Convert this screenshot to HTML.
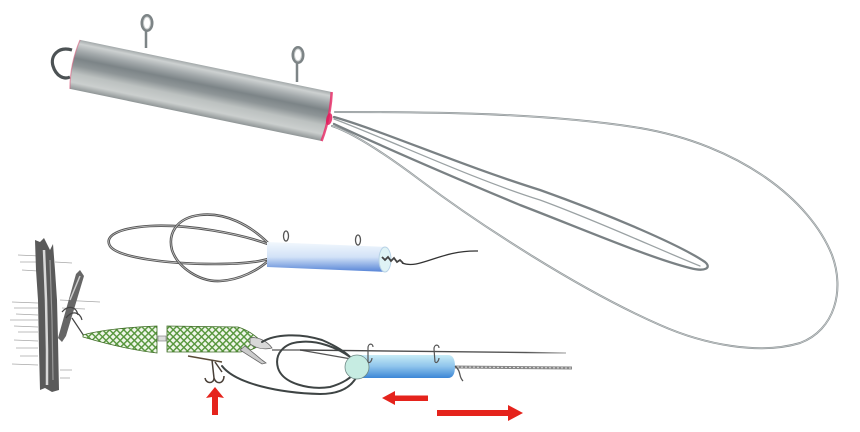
<!DOCTYPE html>
<html><head><meta charset="utf-8"><style>
html,body{margin:0;padding:0;background:#fff;}
svg{display:block;}
</style></head><body>
<svg width="860" height="432" viewBox="0 0 860 432" xmlns="http://www.w3.org/2000/svg">
<defs>
<linearGradient id="metal" x1="0" y1="-25" x2="0" y2="25" gradientUnits="userSpaceOnUse">
<stop offset="0" stop-color="#a3a9aa"/>
<stop offset="0.08" stop-color="#cdd1d1"/>
<stop offset="0.22" stop-color="#a4aaac"/>
<stop offset="0.38" stop-color="#7c8487"/>
<stop offset="0.52" stop-color="#8e9597"/>
<stop offset="0.68" stop-color="#bcc1c0"/>
<stop offset="0.86" stop-color="#cbcfce"/>
<stop offset="1" stop-color="#8f9596"/>
</linearGradient>
<linearGradient id="blue1" x1="0" y1="0" x2="0" y2="1">
<stop offset="0" stop-color="#f2f8fd"/>
<stop offset="0.5" stop-color="#d2e2f7"/>
<stop offset="1" stop-color="#5583d6"/>
</linearGradient>
<linearGradient id="blue2" x1="0" y1="0" x2="0" y2="1">
<stop offset="0" stop-color="#c8ecf6"/>
<stop offset="0.5" stop-color="#8ec4ec"/>
<stop offset="1" stop-color="#3b86d6"/>
</linearGradient>
<pattern id="scale" width="5" height="5" patternUnits="userSpaceOnUse" patternTransform="rotate(45)">
<rect width="5" height="5" fill="#f0f6ea"/>
<rect width="5" height="1.4" fill="#55953a"/>
<rect width="1.4" height="5" fill="#55953a"/>
</pattern>
<linearGradient id="fadeR" x1="0" y1="0" x2="1" y2="0">
<stop offset="0" stop-color="#444"/>
<stop offset="0.85" stop-color="#555"/>
<stop offset="1" stop-color="#bbb"/>
</linearGradient>
</defs>

<!-- big wire loops from metal cylinder -->
<g fill="none" stroke-linecap="round">
<path d="M335,112 C420,112 540,112 640,128 C740,145 810,200 832,255 C845,290 835,330 800,343 C760,355 705,345 660,325 C580,290 480,225 420,180 C380,150 350,132 332,126" stroke="#8f9698" stroke-width="2"/>
<path d="M335,112 C420,112 540,112 640,128 C740,145 810,200 832,255 C845,290 835,330 800,343 C760,355 705,345 660,325 C580,290 480,225 420,180 C380,150 350,132 332,126" stroke="#d6d9da" stroke-width="0.6"/>
<path d="M334,117 C380,130 460,165 540,190 C610,215 680,245 705,262 C712,268 705,272 690,268 C650,258 580,228 520,205 C460,180 390,150 334,124" stroke="#7a8184" stroke-width="2.3"/>
<path d="M334,119 C390,140 470,178 540,200 C600,222 660,250 700,266" stroke="#9ba2a4" stroke-width="1.3"/>
</g>

<!-- metal cylinder -->
<g>
<line x1="146" y1="48" x2="146" y2="30" stroke="#7d8486" stroke-width="2.5"/>
<ellipse cx="147" cy="23" rx="5" ry="7.5" fill="none" stroke="#7d8486" stroke-width="3"/>
<ellipse cx="147" cy="23" rx="3.5" ry="6" fill="none" stroke="#c8cccc" stroke-width="1"/>
<line x1="297" y1="82" x2="297" y2="62" stroke="#7d8486" stroke-width="2.5"/>
<ellipse cx="298" cy="55" rx="5" ry="7.5" fill="none" stroke="#7d8486" stroke-width="3"/>
<ellipse cx="298" cy="55" rx="3.5" ry="6" fill="none" stroke="#c8cccc" stroke-width="1"/>
<path d="M72,50 C58,46 50,56 53,66 C56,76 64,80 70,77" fill="none" stroke="#4c5254" stroke-width="3.2"/>
<g transform="translate(73,64) rotate(11.7)">
<path d="M2,-25 L259,-25 Q263,0 259,25 L2,25 Q-3,0 2,-25 Z" fill="url(#metal)"/>
<path d="M259,-25 Q263,0 259,25" fill="none" stroke="#e8306a" stroke-width="2.5" opacity="0.85"/>
<ellipse cx="262" cy="2" rx="3" ry="6" fill="#e01c5c" opacity="0.85"/>
<path d="M2,-25 Q-3,0 2,25" fill="none" stroke="#d86080" stroke-width="1.2" opacity="0.6"/>
</g>
</g>

<!-- middle illustration -->
<g fill="none" stroke-linecap="round">
<path d="M268,244 C240,234 190,224 150,226 C118,228 104,236 110,246 C118,258 170,264 215,264 C240,264 258,262 268,259" stroke="#555" stroke-width="2.6"/>
<path d="M268,244 C240,234 190,224 150,226 C118,228 104,236 110,246 C118,258 170,264 215,264 C240,264 258,262 268,259" stroke="#ccc" stroke-width="0.7"/>
<path d="M268,243 C250,225 225,212 200,215 C175,218 168,235 172,250 C178,268 200,282 220,281 C240,280 258,270 268,261" stroke="#555" stroke-width="2.6"/>
<path d="M268,243 C250,225 225,212 200,215 C175,218 168,235 172,250 C178,268 200,282 220,281 C240,280 258,270 268,261" stroke="#ccc" stroke-width="0.7"/>
</g>
<path d="M267,242 L387,247 L387,272 L267,267 Z" fill="url(#blue1)"/>
<ellipse cx="385" cy="259.5" rx="6" ry="12.5" fill="#dff3f5" stroke="#b8d2e6" stroke-width="1"/>
<ellipse cx="286" cy="236" rx="2.5" ry="5" fill="none" stroke="#555" stroke-width="1.3"/>
<ellipse cx="358" cy="240" rx="2.5" ry="5" fill="none" stroke="#555" stroke-width="1.3"/>
<path d="M382,257 l3,3 l3,-3 l3,4 l3,-3 l3,4 l3,-2 l3,3" fill="none" stroke="#444" stroke-width="1.8"/>
<path d="M402,263 C420,270 440,250 478,251" fill="none" stroke="#333" stroke-width="1.3"/>

<!-- tree hatching lines -->
<g stroke="#a8a8a8" stroke-width="0.8">
<line x1="18" y1="255" x2="40" y2="256"/><line x1="20" y1="262" x2="38" y2="262"/>
<line x1="22" y1="270" x2="38" y2="271"/><line x1="55" y1="262" x2="72" y2="263"/>
<line x1="12" y1="302" x2="38" y2="303"/><line x1="14" y1="308" x2="38" y2="308"/>
<line x1="16" y1="314" x2="38" y2="315"/><line x1="10" y1="320" x2="38" y2="320"/>
<line x1="14" y1="326" x2="38" y2="327"/><line x1="18" y1="332" x2="38" y2="332"/>
<line x1="14" y1="340" x2="38" y2="341"/><line x1="16" y1="348" x2="38" y2="348"/>
<line x1="20" y1="356" x2="38" y2="356"/><line x1="12" y1="364" x2="38" y2="365"/>
<line x1="60" y1="300" x2="100" y2="302"/><line x1="62" y1="308" x2="85" y2="309"/>
<line x1="60" y1="370" x2="72" y2="370"/><line x1="60" y1="378" x2="70" y2="378"/>
</g>
<!-- tree -->
<path d="M35,240 L40,242 L44,238 L50,250 L53,244 L55,270 L57,300 L58,340 L59,390 L52,392 L45,388 L40,390 L39,350 L38,300 L36,270 Z" fill="#5a5a5a"/>
<path d="M44,250 L46,300 L47,350 L47,385" stroke="#d8d8d8" stroke-width="2.5" fill="none"/>
<path d="M50,260 L52,320 L53,380" stroke="#999" stroke-width="1.2" fill="none"/>
<path d="M58,338 L76,274 L80,270 L84,276 L66,336 L62,342 Z" fill="#666"/>
<path d="M70,300 L80,276" stroke="#ccc" stroke-width="1.5"/>
<path d="M62,312 C68,305 76,306 78,315 M66,318 C72,310 80,312 82,320 M72,318 L84,336" fill="none" stroke="#444" stroke-width="1.2"/>

<!-- lure -->
<path d="M83,335 C100,330 130,327 157,326 L157,353 C130,350 100,342 83,337 Z" fill="url(#scale)" stroke="#3f6d27" stroke-width="0.8"/>
<rect x="158" y="336" width="8" height="5" fill="#ddd" stroke="#777" stroke-width="0.6"/>
<path d="M167,326 L238,327 C248,330 256,336 262,342 C258,348 250,351 240,352 L167,352 Z" fill="url(#scale)" stroke="#3f6d27" stroke-width="0.8"/>
<path d="M245,346 L262,360 L266,363 L262,364 L240,350 Z" fill="#ccc" stroke="#666" stroke-width="0.8"/>
<path d="M250,338 C258,336 268,342 272,348 C264,350 256,348 250,344 Z" fill="#d8d8d8" stroke="#666" stroke-width="0.8"/>
<!-- hook -->
<path d="M188,356 L222,362" stroke="#5a4a38" stroke-width="1.6" fill="none"/>
<path d="M212,360 L214,378 C214,384 206,384 205,378 M214,378 C216,385 224,384 224,376 M215,362 L222,372" stroke="#4a4038" stroke-width="1.5" fill="none"/>

<!-- lower scene lines -->
<path d="M272,350 L300,350 L357,360" stroke="#555" stroke-width="1.2" fill="none"/>
<path d="M300,350 L566,353" stroke="url(#fadeR)" stroke-width="1.4" fill="none"/>
<path d="M453,367 L572,368" stroke="#888" stroke-width="3" fill="none"/>
<path d="M453,367 L572,368" stroke="#ddd" stroke-width="1" stroke-dasharray="2 2" fill="none"/>
<g fill="none" stroke="#3e4444" stroke-width="2" stroke-linecap="round">
<path d="M262,342 C275,334 300,333 322,340 C336,346 346,352 352,359"/>
<path d="M222,366 C236,384 280,393 320,394 C342,394 352,386 357,376"/>
<path d="M300,342 C284,343 274,354 278,368 C283,384 310,390 330,387 C344,383 350,378 354,374"/>
<path d="M300,342 C318,340 338,348 350,357"/>
</g>
<!-- lower tube -->
<path d="M357,355 L448,355 Q455,355 455,366.5 Q455,378 448,378 L357,378 Z" fill="url(#blue2)"/>
<circle cx="357" cy="367" r="12" fill="#c6ece2" stroke="#6f8a86" stroke-width="0.8"/>
<path d="M368,362 L368,348 C368,343 373,343 373,347 M368,362 C370,364 372,360 372,358" fill="none" stroke="#555" stroke-width="1.2"/>
<path d="M435,362 L434,349 C434,344 439,344 439,348 M435,362 C437,364 439,360 439,358" fill="none" stroke="#555" stroke-width="1.2"/>
<path d="M455,366 C462,372 458,376 463,381" fill="none" stroke="#555" stroke-width="1.3"/>

<!-- red arrows -->
<g fill="#e5231c">
<path d="M212,397 L206,398 L215,387 L224,398 L218,397 L218,415 L212,415 Z"/>
<path d="M382,398 L395,391 L395,395.5 L428,395.5 L428,401 L395,401 L395,405 Z"/>
<path d="M437,410 L508,410 L508,405 L523,413 L508,421 L508,416 L437,416 Z"/>
</g>
</svg>
</body></html>
